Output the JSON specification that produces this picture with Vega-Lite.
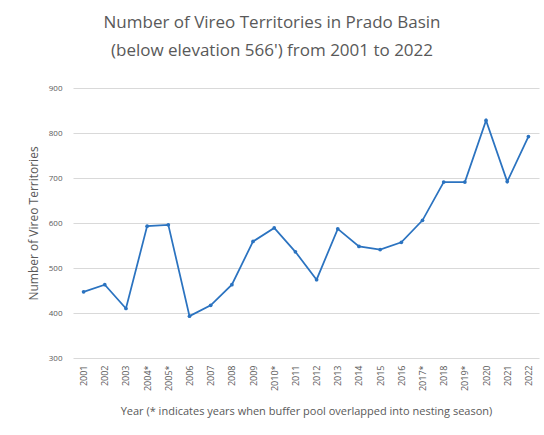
{
  "$schema": "https://vega.github.io/schema/vega-lite/v6.json",
  "autosize": {"type": "none"},
  "padding": {"left": 73, "top": 88, "right": 5, "bottom": 77},
  "width": 466,
  "height": 270,
  "background": "white",
  "title": {
    "text": ["Number of Vireo Territories in Prado Basin", "(below elevation 566') from 2001 to 2022"],
    "anchor": "middle",
    "dx": -34,
    "offset": 24,
    "font": "Open Sans",
    "fontSize": 17,
    "fontWeight": "normal",
    "color": "#595959",
    "lineHeight": 28
  },
  "data": {
    "values": [
      {"year": "2001", "territories": 447},
      {"year": "2002", "territories": 463},
      {"year": "2003", "territories": 410},
      {"year": "2004*", "territories": 593},
      {"year": "2005*", "territories": 596},
      {"year": "2006", "territories": 393},
      {"year": "2007", "territories": 417},
      {"year": "2008", "territories": 463},
      {"year": "2009", "territories": 559},
      {"year": "2010*", "territories": 589},
      {"year": "2011", "territories": 536},
      {"year": "2012", "territories": 474},
      {"year": "2013", "territories": 587},
      {"year": "2014", "territories": 548},
      {"year": "2015", "territories": 541},
      {"year": "2016", "territories": 557},
      {"year": "2017*", "territories": 606},
      {"year": "2018", "territories": 691},
      {"year": "2019*", "territories": 691},
      {"year": "2020", "territories": 828},
      {"year": "2021", "territories": 692},
      {"year": "2022", "territories": 792}
    ]
  },
  "mark": {
    "type": "line",
    "color": "#2B73C0",
    "strokeWidth": 1.75,
    "point": {"filled": true, "size": 14, "color": "#2B73C0"}
  },
  "encoding": {
    "x": {
      "field": "year",
      "type": "ordinal",
      "sort": null,
      "scale": {"type": "point", "padding": 0.5},
      "axis": {
        "title": "Year (* indicates years when buffer pool overlapped into nesting season)",
        "labelAngle": -90,
        "labelFont": "Open Sans",
        "labelFontSize": 9,
        "labelColor": "#595959",
        "labelPadding": 7,
        "ticks": false,
        "domain": false,
        "grid": false,
        "titleFont": "Open Sans",
        "titleFontSize": 11,
        "titleFontWeight": "normal",
        "titleColor": "#595959",
        "titlePadding": 15
      }
    },
    "y": {
      "field": "territories",
      "type": "quantitative",
      "scale": {"domain": [300, 900], "nice": false, "zero": false},
      "axis": {
        "title": "Number of Vireo Territories",
        "values": [300, 400, 500, 600, 700, 800, 900],
        "labelFont": "Open Sans",
        "labelFontSize": 8,
        "labelColor": "#595959",
        "labelPadding": 11,
        "ticks": false,
        "domain": false,
        "grid": true,
        "gridColor": "#d9d9d9",
        "gridWidth": 1,
        "titleFont": "Open Sans",
        "titleFontSize": 12,
        "titleFontWeight": "normal",
        "titleColor": "#595959",
        "titlePadding": 8
      }
    }
  },
  "config": {"view": {"stroke": null}}
}
